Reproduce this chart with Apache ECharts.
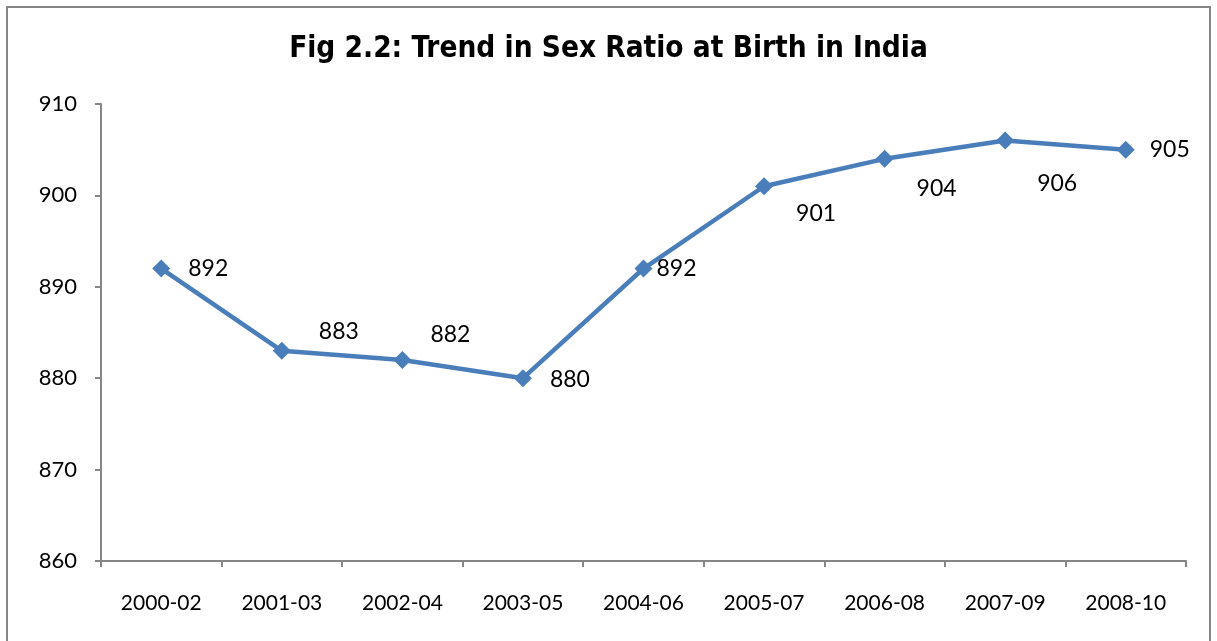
<!DOCTYPE html>
<html>
<head>
<meta charset="utf-8">
<script src="https://cdn.jsdelivr.net/npm/echarts@6/dist/echarts.min.js"></script>
<style>
  html, body { margin: 0; padding: 0; background: #fff; }
  #chart { width: 1217px; height: 641px; }
</style>
</head>
<body>
<div id="chart"></div>
<script>
var periods = ['2000-02', '2001-03', '2002-04', '2003-05', '2004-06', '2005-07', '2006-08', '2007-09', '2008-10'];
var sexRatio = [892, 883, 882, 880, 892, 901, 904, 906, 905];
// where each value label sits relative to its marker (Excel placed them by hand)
var labelOffsets = [[47, 0], [57, -19], [48, -25], [47, 1], [33, 0], [52, 27], [52, 30], [52, 43], [44, 0]];

var chart = echarts.init(document.getElementById('chart'));
var blue = '#4a7ebb';
var textFont = 'Lato, "Open Sans", sans-serif';

var points = sexRatio.map(function (v, i) {
    return {
        value: v,
        label: { offset: labelOffsets[i] }
    };
});

chart.setOption({
    animation: false,
    title: {
        text: 'Fig 2.2: Trend in Sex Ratio at Birth in India',
        left: 'center',
        top: 29,
        textStyle: {
            fontFamily: '"DejaVu Sans Condensed", "Roboto Condensed", "DejaVu Sans", sans-serif',
            fontWeight: 'bold',
            fontSize: 29.5,
            color: '#000'
        }
    },
    graphic: [{
        type: 'rect',
        shape: { x: 7, y: 7, width: 1203, height: 640 },
        style: { fill: null, stroke: '#868686', lineWidth: 2 },
        silent: true
    }],
    grid: { left: 101, right: 31, top: 104, bottom: 80 },
    xAxis: {
        type: 'category',
        data: periods,
        boundaryGap: true,
        axisLine: { lineStyle: { color: '#868686', width: 2 } },
        axisTick: { show: true, length: 6, lineStyle: { color: '#868686', width: 2 } },
        axisLabel: {
            color: '#000',
            fontFamily: textFont,
            fontSize: 21,
            margin: 32
        },
        splitLine: { show: false }
    },
    yAxis: {
        type: 'value',
        min: 860,
        max: 910,
        interval: 10,
        axisLine: { show: true, lineStyle: { color: '#868686', width: 2 } },
        axisTick: { show: true, length: 6, lineStyle: { color: '#868686', width: 2 } },
        axisLabel: {
            color: '#000',
            fontFamily: textFont,
            fontSize: 22,
            margin: 24
        },
        splitLine: { show: false }
    },
    series: [{
        type: 'line',
        data: points,
        symbol: 'diamond',
        symbolSize: 18,
        lineStyle: { color: blue, width: 4.5 },
        itemStyle: { color: blue },
        label: {
            show: true,
            position: 'inside',
            color: '#000',
            fontFamily: textFont,
            fontSize: 23
        }
    }]
});
</script>
</body>
</html>
